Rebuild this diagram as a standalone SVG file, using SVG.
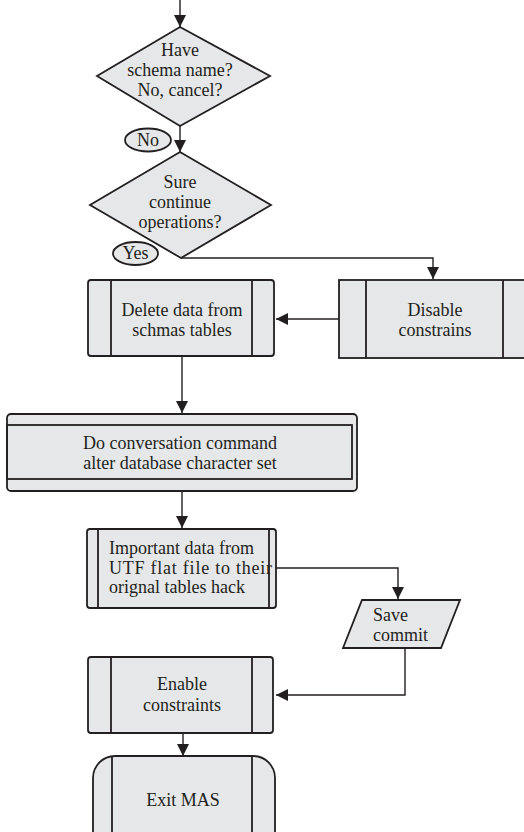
<svg xmlns="http://www.w3.org/2000/svg" width="524" height="832" viewBox="0 0 524 832">
<style>
.shape{fill:#e6e7e8;stroke:#231f20;stroke-width:1.8}
.inner{fill:none;stroke:#231f20;stroke-width:1.8}
.conn{fill:none;stroke:#231f20;stroke-width:1.4}
text{font-family:"Liberation Serif","Times New Roman",serif;font-size:18px;fill:#231f20}
.c{text-anchor:middle}
</style>
<defs>
<marker id="ah" markerUnits="userSpaceOnUse" markerWidth="13" markerHeight="12" refX="12" refY="6" orient="auto">
<path d="M0,0 L12,6 L0,12 z" fill="#231f20"/>
</marker>
</defs>
<rect width="524" height="832" fill="#ffffff"/>
<g id="connectors">
<path class="conn" d="M180,0 V27" marker-end="url(#ah)"/>
<path class="conn" d="M180,126 V152" marker-end="url(#ah)"/>
<path class="conn" d="M181,258 H433 V279" marker-end="url(#ah)"/>
<path class="conn" d="M339,319 H276" marker-end="url(#ah)"/>
<path class="conn" d="M182,356 V413" marker-end="url(#ah)"/>
<path class="conn" d="M182,491 V528" marker-end="url(#ah)"/>
<path class="conn" d="M276,568 H398 V599" marker-end="url(#ah)"/>
<path class="conn" d="M405,648 V695 H276" marker-end="url(#ah)"/>
<path class="conn" d="M183,733 V756" marker-end="url(#ah)"/>
</g>
<g id="decision1">
<polygon class="shape" points="180,27 270,76 180,126 97,76"/>
<text class="c" x="180" y="56">Have</text>
<text class="c" x="180" y="76">schema name?</text>
<text class="c" x="180" y="96">No, cancel?</text>
</g>
<g id="label-no">
<ellipse class="shape" cx="148" cy="140" rx="23" ry="11.5"/>
<text class="c" x="148" y="146">No</text>
</g>
<g id="decision2">
<polygon class="shape" points="180,152 271,205 181,258 90,205"/>
<text class="c" x="180" y="188">Sure</text>
<text class="c" x="180" y="208">continue</text>
<text class="c" x="180" y="228">operations?</text>
</g>
<g id="label-yes">
<ellipse class="shape" cx="135.5" cy="253.5" rx="22.5" ry="11.5"/>
<text class="c" x="135.5" y="259">Yes</text>
</g>
<g id="delete">
<rect class="shape" x="88" y="280" width="186" height="76" rx="3"/>
<line class="inner" x1="111" y1="280" x2="111" y2="356"/>
<line class="inner" x1="252" y1="280" x2="252" y2="356"/>
<text class="c" x="182" y="316">Delete data from</text>
<text class="c" x="182" y="336">schmas tables</text>
</g>
<g id="disable">
<rect class="shape" x="339" y="280" width="200" height="78"/>
<line class="inner" x1="366" y1="280" x2="366" y2="358"/>
<line class="inner" x1="503" y1="280" x2="503" y2="358"/>
<text class="c" x="435" y="316">Disable</text>
<text class="c" x="435" y="336">constrains</text>
</g>
<g id="conversation">
<rect class="shape" x="7" y="414" width="350" height="77" rx="4"/>
<rect class="inner" x="7" y="425" width="345" height="54"/>
<text class="c" x="180" y="449">Do conversation command</text>
<text class="c" x="180" y="469">alter database character set</text>
</g>
<g id="import">
<rect class="shape" x="87" y="529" width="189" height="79" rx="3"/>
<line class="inner" x1="98" y1="529" x2="98" y2="608"/>
<line class="inner" x1="269" y1="529" x2="269" y2="608"/>
<text x="109" y="554">Important data from</text>
<text x="109" y="574" textLength="163" lengthAdjust="spacing">UTF flat file to their</text>
<text x="109" y="593">orignal tables hack</text>
</g>
<g id="save">
<polygon class="shape" points="362,600 460,600 441,648 343,648"/>
<text x="373" y="621">Save</text>
<text x="373" y="641">commit</text>
</g>
<g id="enable">
<rect class="shape" x="88" y="657" width="185" height="76" rx="3"/>
<line class="inner" x1="111" y1="657" x2="111" y2="733"/>
<line class="inner" x1="252" y1="657" x2="252" y2="733"/>
<text class="c" x="182" y="690">Enable</text>
<text class="c" x="182" y="711">constraints</text>
</g>
<g id="exit">
<rect class="shape" x="93" y="756" width="182" height="110" rx="22"/>
<line class="inner" x1="112" y1="756" x2="112" y2="866"/>
<line class="inner" x1="252" y1="756" x2="252" y2="866"/>
<text class="c" x="183" y="806">Exit MAS</text>
</g>
</svg>
